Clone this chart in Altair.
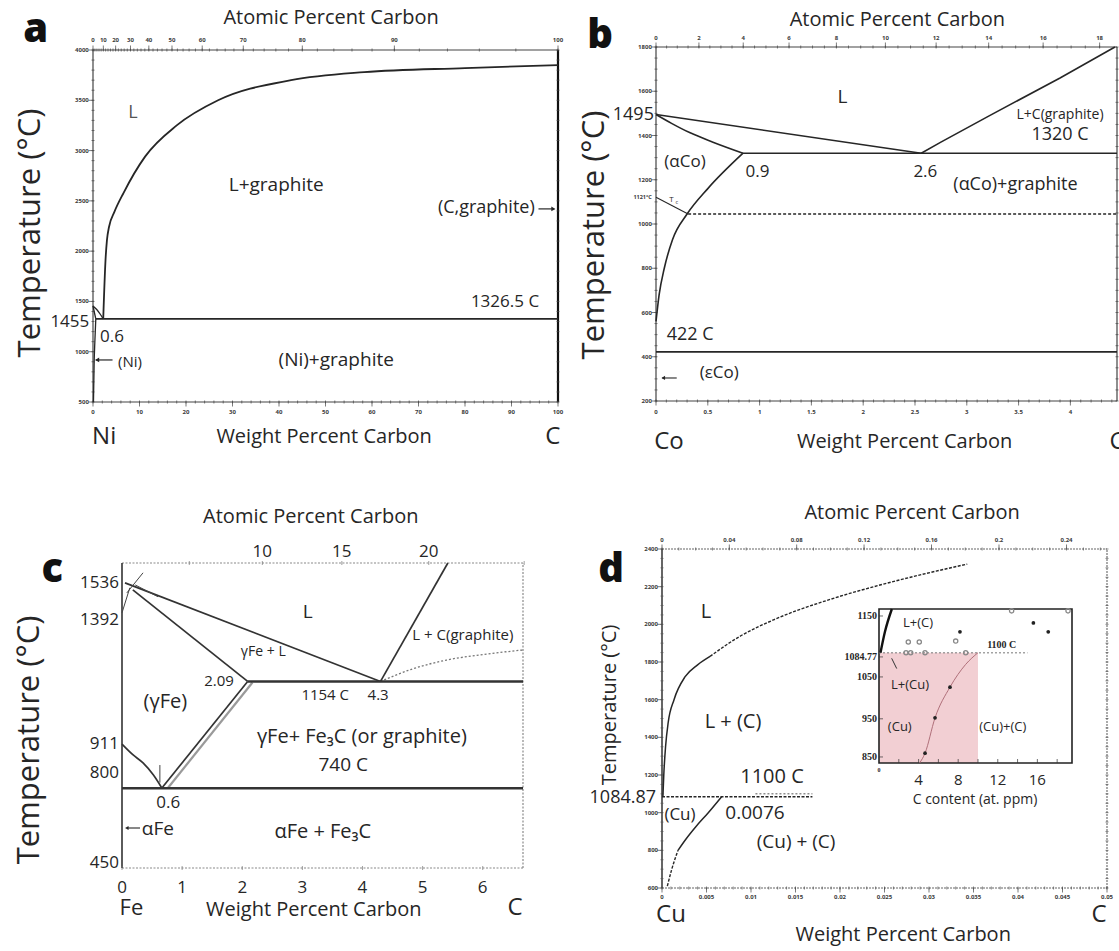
import altair as alt
import pandas as pd

FONT = "Open Sans"
INK = "#262626"


def at2wt(at_list, m):
    return [100.0 * 12.011 * a / (12.011 * a + m * (100.0 - a)) for a in at_list]


def rng(a, b, step):
    out, v = [], a
    while v <= b + 1e-9:
        out.append(round(v, 6))
        v += step
    return out

# ===================== DATA =====================
# ---- panel a : Ni-C (wt.% C, deg C) ----
a_liq_wt = [2.2, 2.69, 3.0, 3.44, 4.6, 6.58, 11.2, 18, 26.9, 42.6, 58.3, 80, 100]
a_liq_T = [1326.5, 1910, 2110, 2240, 2390, 2580, 2940, 3250, 3500, 3700, 3780, 3820, 3850]
a_niliq_wt = [0, 0.8, 1.6, 2.2]
a_niliq_T = [1455, 1420, 1370, 1326.5]
a_sol_wt = [0, 0.3, 0.6]
a_sol_T = [1455, 1390, 1326.5]
a_solv_wt = [0.1, 0.25, 0.4, 0.6]
a_solv_T = [500, 900, 1100, 1326.5]
a_eut_wt = [0.6, 100]
a_eut_T = [1326.5, 1326.5]
a_wt_ticks = list(range(0, 101, 10))
a_T_ticks = list(range(500, 4001, 500))
a_at_ticks = list(range(0, 101, 10))

# ---- panel b : Co-C ----
b_liqL_wt = [0, 2.56]
b_liqL_T = [1495, 1320]
b_sol_wt = [0, 0.15, 0.33, 0.55, 0.84]
b_sol_T = [1495, 1455, 1412, 1370, 1320]
b_solv_wt = [0, 0.03, 0.08, 0.16, 0.3, 0.5, 0.84]
b_solv_T = [560, 680, 800, 930, 1045, 1160, 1320]
b_eut_wt = [0.84, 4.45]
b_eut_T = [1320, 1320]
b_liqR_wt = [2.56, 2.75, 3.22, 3.9, 4.43]
b_liqR_T = [1320, 1370, 1490, 1660, 1800]
b_mag_wt = [0.31, 4.45]
b_mag_T = [1045, 1045]
b_tc_wt = [0, 0.31]
b_tc_T = [1121, 1045]
b_422_wt = [0, 4.45]
b_422_T = [422, 422]
b_wt_ticks = [0, 0.5, 1, 1.5, 2, 2.5, 3, 3.5, 4]
b_wt_labels = ["0", "0.5", "1", "1.5", "2", "2.5", "3", "3.5", "4"]
b_T_ticks = list(range(200, 1801, 200))
b_at_ticks = list(range(0, 19, 2))

# ---- panel c : Fe-C ----
c_liq_wt = [0.05, 4.3]
c_liq_T = [1536, 1154]
c_sol_wt = [0.18, 2.09]
c_sol_T = [1509, 1154]
c_gl_wt = [4.3, 5.42]
c_gl_T = [1154, 1613]
c_dot_wt = [4.3, 4.8, 5.4, 6.0, 6.67]
c_dot_T = [1154, 1200, 1237, 1258, 1276]
c_eut_wt = [2.09, 6.67]
c_eut_T = [1154, 1154]
c_acm_wt = [2.09, 0.66]
c_acm_T = [1154, 740]
c_acm2_wt = [2.17, 0.76]
c_acm2_T = [1150, 740]
c_a3_wt = [0, 0.18, 0.35, 0.52, 0.66]
c_a3_T = [911, 870, 838, 792, 742]
c_ed_wt = [0, 6.67]
c_ed_T = [740, 740]
c_d1_wt, c_d1_T = [0, 0.13], [1420, 1517]
c_d2_wt, c_d2_T = [0.08, 0.35], [1497, 1575]
c_d3_wt, c_d3_T = [0.22, 0.6], [1528, 1482]
c_wt_ticks = [0, 1, 2, 3, 4, 5, 6]
c_T_ticks = [1536, 1392, 911, 800, 450]
c_at_ticks = [10, 15, 20]
c_at_minor = [5, 10, 15, 20, 25]

# ---- panel d : Cu-C ----
d_liqS_wt = [0.0001, 0.0002, 0.0004, 0.0007, 0.00135, 0.0026, 0.004, 0.0054]
d_liqS_T = [1085, 1200, 1350, 1480, 1600, 1722, 1785, 1830]
d_liqD_wt = [0.0054, 0.0087, 0.0126, 0.0194, 0.0246, 0.0343]
d_liqD_T = [1830, 1935, 2025, 2140, 2210, 2320]
d_solS_wt = [0.0018, 0.0027, 0.0038, 0.0052, 0.0067]
d_solS_T = [800, 860, 925, 1000, 1085]
d_solD_wt = [0.0006, 0.0011, 0.0018]
d_solD_T = [610, 700, 800]
d_eut_wt = [0, 0.0169]
d_eut_T = [1084.87, 1084.87]
d_1100_wt = [0.0105, 0.0169]
d_1100_T = [1100, 1100]
d_wt_ticks = [0, 0.005, 0.01, 0.015, 0.02, 0.025, 0.03, 0.035, 0.04, 0.045, 0.05]
d_wt_labels = ["0", "0.005", "0.01", "0.015", "0.02", "0.025", "0.03", "0.035", "0.04", "0.045", "0.05"]
d_T_ticks = list(range(600, 2401, 200))
d_at_ticks = [0, 0.04, 0.08, 0.12, 0.16, 0.2, 0.24]
d_at_labels = ["0", "0.04", "0.08", "0.12", "0.16", "0.2", "0.24"]

# ---- inset (C content at. ppm, deg C) ----
i_solv_ppm = [4.1, 4.65, 5.66, 7.17, 8.76, 10]
i_solv_T = [848, 869, 945, 1011, 1060, 1085]
i_liq_ppm = [0.15, 0.6, 1.3]
i_liq_T = [1085, 1130, 1179]
i_fill_ppm = [4.65, 5.66, 7.17, 8.18, 15.6, 17.1]
i_fill_T = [869, 945, 1011, 1130, 1149, 1130]
i_open_ppm = [2.96, 4.07, 7.75, 2.73, 3.2, 4.65, 8.76, 13.4, 19.1]
i_open_T = [1108, 1108, 1110, 1085, 1085, 1085, 1085, 1175, 1175]
i_x_ticks = [4, 8, 12, 16]
i_y_labels = ["1150", "1084.77", "1050", "950", "850"]
i_y_pos = [1164, 1076, 1033, 943, 861]


# ===================== HELPERS =====================
class Panel:
    def __init__(self, xd, xr, yd, yr):
        self.xs = dict(domain=xd, range=xr, nice=False, zero=False)
        self.ys = dict(domain=yd, range=yr, nice=False, zero=False)

    def X(self, f="x"):
        return alt.X(f"{f}:Q", scale=alt.Scale(**self.xs), axis=None)

    def Y(self, f="y"):
        return alt.Y(f"{f}:Q", scale=alt.Scale(**self.ys), axis=None)


def lines(P, series, color=INK, width=1.5, dash=None, opacity=1.0, curve="linear"):
    rows = []
    for g, (xs, ys) in enumerate(series):
        for o, (x, y) in enumerate(zip(xs, ys)):
            rows.append({"g": g, "o": o, "x": x, "y": y})
    kw = dict(color=color, strokeWidth=width, opacity=opacity, interpolate=curve)
    if dash:
        kw["strokeDash"] = dash
    return alt.Chart(pd.DataFrame(rows)).mark_line(**kw).encode(
        x=P.X(), y=P.Y(), detail="g:N", order="o:Q")


def texts(P, rows, align="center", baseline="middle", font=FONT, weight="normal",
          angle=0, color=INK):
    df = pd.DataFrame(rows, columns=["x", "y", "t", "s"])
    kw = dict(align=align, baseline=baseline, font=font, fontWeight=weight, color=color)
    if angle:
        kw["angle"] = angle
    return alt.Chart(df).mark_text(**kw).encode(
        x=P.X(), y=P.Y(), text="t:N", size=alt.Size("s:Q", scale=None, legend=None))


def frame(P, x0, x1, y0, y1, color="#444", width=1.2, dash=None, sides="btlr"):
    segs = {"b": (x0, x1, y0, y0), "t": (x0, x1, y1, y1),
            "l": (x0, x0, y0, y1), "r": (x1, x1, y0, y1)}
    df = pd.DataFrame([dict(zip(["x", "x2", "y", "y2"], segs[s])) for s in sides])
    kw = dict(color=color, strokeWidth=width)
    if dash:
        kw["strokeDash"] = dash
    return alt.Chart(df).mark_rule(**kw).encode(x=P.X(), x2="x2:Q", y=P.Y(), y2="y2:Q")


def ticks(P, xs, ys, orient, size, color="#444", thickness=1, xoff=0, yoff=0):
    n = max(len(xs) if isinstance(xs, list) else 1, len(ys) if isinstance(ys, list) else 1)
    xs = xs if isinstance(xs, list) else [xs] * n
    ys = ys if isinstance(ys, list) else [ys] * n
    df = pd.DataFrame({"x": xs, "y": ys})
    return alt.Chart(df).mark_tick(orient=orient, size=size, thickness=thickness, color=color,
                                   xOffset=xoff, yOffset=yoff).encode(x=P.X(), y=P.Y())


def points(P, xs, ys, shape="circle", size=20, filled=True, color=INK, width=1):
    df = pd.DataFrame({"x": xs, "y": ys})
    return alt.Chart(df).mark_point(shape=shape, size=size, filled=filled, color=color,
                                    strokeWidth=width, opacity=1).encode(x=P.X(), y=P.Y())


def box(P, x0, x1, y0, y1, fill=None, stroke=None, width=1.0):
    df = pd.DataFrame([{"x": x0, "x2": x1, "y": y0, "y2": y1}])
    kw = {}
    if fill:
        kw["fill"] = fill
        kw["fillOpacity"] = 1
    else:
        kw["fillOpacity"] = 0
    if stroke:
        kw["stroke"] = stroke
        kw["strokeWidth"] = width
    return alt.Chart(df).mark_rect(**kw).encode(x=P.X(), x2="x2:Q", y=P.Y(), y2="y2:Q")


TL = 6  # tiny tick label size
TC = "#3a3a3a"
MONO = "monotone"

# ===================== PANEL A =====================
PA = Panel([0, 100], [93, 558], [500, 4000], [402, 50])
a_top = at2wt(a_at_ticks, 58.693)
a_layers = [
    frame(PA, 0, 100, 500, 4000, sides="btl"),
    frame(PA, 0, 100, 500, 4000, color="#111", width=2.2, sides="r"),
    ticks(PA, rng(0, 100, 2), 500, "vertical", 3),
    ticks(PA, a_wt_ticks, 500, "vertical", 5, yoff=2),
    ticks(PA, at2wt(rng(0, 100, 2), 58.693), 4000, "vertical", 3),
    ticks(PA, a_top, 4000, "vertical", 5, yoff=-2),
    ticks(PA, 0, rng(500, 4000, 100), "horizontal", 3),
    ticks(PA, 0, a_T_ticks, "horizontal", 5, xoff=-2),
    ticks(PA, 100, rng(500, 4000, 100), "horizontal", 3),
    texts(PA, [(v, 398, str(v), TL) for v in a_wt_ticks], weight="bold", color=TC),
    texts(PA, [(w, 4100, str(a), TL) for w, a in zip(a_top, a_at_ticks)], weight="bold", color=TC),
    texts(PA, [(-0.9, v, str(v), TL) for v in a_T_ticks], align="right", weight="bold", color=TC),
    lines(PA, [(a_liq_wt, a_liq_T)], width=1.8, curve=MONO),
    lines(PA, [(a_niliq_wt, a_niliq_T), (a_sol_wt, a_sol_T), (a_solv_wt, a_solv_T)], width=1.3,
          curve=MONO),
    lines(PA, [(a_eut_wt, a_eut_T)], width=1.8),
    lines(PA, [([0.6, 4.2], [918, 918]), ([95.8, 99.2], [2420, 2420])], width=1.2),
    points(PA, [0.9], [918], shape="triangle-left", size=22),
    points(PA, [99.0], [2420], shape="triangle-right", size=22),
    texts(PA, [(8.6, 3374, "L", 18)], color="#555"),
    texts(PA, [(39.4, 2658, "L+graphite", 19), (88.6, 1494, "1326.5 C", 17),
               (52.3, 918, "(Ni)+graphite", 19),
               (2.4, 152, "Ni", 24), (49.7, 152, "Weight Percent Carbon", 20), (98.9, 152, "C", 24),
               (51.2, 4318, "Atomic Percent Carbon", 20)]),
    texts(PA, [(95.0, 2429, "(C,graphite)", 18), (-0.8, 1295, "1455", 17)], align="right"),
    texts(PA, [(1.5, 1146, "0.6", 17), (5.4, 898, "(Ni)", 15)], align="left"),
    texts(PA, [(-12.3, 4080, "a", 40)], baseline="alphabetic", weight=800, color="#111"),
    texts(PA, [(-13.3, 2180, "Temperature (°C)", 31)], angle=270),
]

# ===================== PANEL B =====================
PB = Panel([0, 4.45], [656, 1117], [200, 1800], [401, 47])
b_top = at2wt(b_at_ticks, 58.933)
b_layers = [
    frame(PB, 0, 4.45, 200, 1800),
    ticks(PB, rng(0, 4.45, 0.1), 200, "vertical", 3),
    ticks(PB, b_wt_ticks, 200, "vertical", 5, yoff=2),
    ticks(PB, at2wt(rng(0, 18, 0.5), 58.933), 1800, "vertical", 3),
    ticks(PB, b_top, 1800, "vertical", 5, yoff=-2),
    ticks(PB, 0, rng(200, 1800, 50), "horizontal", 3),
    ticks(PB, 0, b_T_ticks, "horizontal", 5, xoff=-2),
    ticks(PB, 4.45, rng(200, 1800, 50), "horizontal", 3),
    texts(PB, [(v, 150, t, TL) for v, t in zip(b_wt_ticks, b_wt_labels)], weight="bold", color=TC),
    texts(PB, [(w, 1841, str(a), TL) for w, a in zip(b_top, b_at_ticks)], weight="bold", color=TC),
    texts(PB, [(-0.04, v, str(v), TL) for v in b_T_ticks], align="right", weight="bold", color=TC),
    texts(PB, [(-0.04, 1122, "1121°C", 5.5)], align="right", weight="bold", color=TC),
    lines(PB, [(b_liqL_wt, b_liqL_T), (b_eut_wt, b_eut_T), (b_422_wt, b_422_T),
               (b_liqR_wt, b_liqR_T)], width=1.6),
    lines(PB, [(b_sol_wt, b_sol_T), (b_solv_wt, b_solv_T)], width=1.6, curve=MONO),
    lines(PB, [(b_tc_wt, b_tc_T)], width=1.1),
    lines(PB, [(b_mag_wt, b_mag_T)], width=1.4, dash=[3, 2]),
    lines(PB, [([0.06, 0.2], [304, 304])], width=1.1),
    points(PB, [0.07], [304], shape="triangle-left", size=18),
    texts(PB, [(1.80, 1574, "L", 19), (3.90, 1493, "L+C(graphite)", 14), (3.90, 1402, "1320 C", 18),
               (0.28, 1280, "(αCo)", 17), (0.98, 1235, "0.9", 17), (2.60, 1235, "2.6", 17),
               (3.47, 1176, "(αCo)+graphite", 18), (0.33, 498, "422 C", 18), (0.61, 327, "(εCo)", 17),
               (0.125, 15, "Co", 24), (2.40, 15, "Weight Percent Carbon", 20), (4.45, 15, "C", 24),
               (2.33, 1922, "Atomic Percent Carbon", 20)]),
    texts(PB, [(0.15, 1110, "T", 8), (0.2, 1100, "c", 5.5)]),
    texts(PB, [(-0.02, 1493, "1495", 18)], align="right"),
    texts(PB, [(-0.54, 1795, "b", 40)], baseline="alphabetic", weight=800, color="#111"),
    texts(PB, [(-0.59, 950, "Temperature (°C)", 31)], angle=270),
]

# ===================== PANEL C =====================
PC = Panel([0, 6.67], [122, 523], [431, 1613], [868, 563])
c_top = at2wt(c_at_ticks, 55.845)
c_layers = [
    frame(PC, 0, 6.67, 431, 1613, color="#8a8a8a", width=1.2, dash=[2, 1.5], sides="btr"),
    frame(PC, 0, 6.67, 431, 1613, color="#333", width=1.6, sides="l"),
    ticks(PC, c_wt_ticks, 431, "vertical", 4, color="#777"),
    ticks(PC, at2wt(c_at_minor, 55.845), 1613, "vertical", 4, color="#777"),
    texts(PC, [(v, 353, str(v), 17) for v in c_wt_ticks]),
    texts(PC, [(w, 1656, str(a), 17) for w, a in zip(c_top, c_at_ticks)]),
    texts(PC, [(-0.05, v, str(v), 17) for v in c_T_ticks], align="right"),
    lines(PC, [(c_acm2_wt, c_acm2_T)], color="#9a9a9a", width=2.2),
    lines(PC, [(c_dot_wt, c_dot_T)], color="#777", width=1.3, dash=[2, 2], curve=MONO),
    lines(PC, [(c_liq_wt, c_liq_T), (c_sol_wt, c_sol_T), (c_gl_wt, c_gl_T),
               (c_acm_wt, c_acm_T)], color="#333", width=1.7),
    lines(PC, [(c_a3_wt, c_a3_T)], color="#333", width=1.7, curve=MONO),
    lines(PC, [(c_d1_wt, c_d1_T), (c_d2_wt, c_d2_T), (c_d3_wt, c_d3_T),
               ([0.63, 0.63], [830, 762])], color="#444", width=1.0),
    lines(PC, [(c_eut_wt, c_eut_T), (c_ed_wt, c_ed_T)], color="#333", width=2.6),
    lines(PC, [([0.1, 0.3], [586, 586])], width=1.1),
    points(PC, [0.08], [586], shape="triangle-left", size=16),
    texts(PC, [(3.09, 1423, "L", 19), (5.67, 1334, "L + C(graphite)", 15), (2.35, 1268, "γFe + L", 14),
               (3.38, 1102, "1154 C", 15), (4.26, 1102, "4.3", 15), (0.72, 1074, "(γFe)", 20),
               (3.99, 939, "γFe+ Fe₃C (or graphite)", 20), (3.68, 830, "740 C", 19),
               (0.77, 683, "0.6", 17), (3.34, 571, "αFe + Fe₃C", 20),
               (3.19, 268, "Weight Percent Carbon", 20), (6.54, 276, "C", 24),
               (3.14, 1791, "Atomic Percent Carbon", 20)]),
    texts(PC, [(1.86, 1156, "2.09", 15)], align="right"),
    texts(PC, [(0.33, 582, "αFe", 19), (-0.04, 276, "Fe", 22)], align="left"),
    texts(PC, [(-1.16, 1539, "c", 40)], baseline="alphabetic", weight=800, color="#111"),
    texts(PC, [(-1.53, 927, "Temperature (°C)", 31)], angle=270),
]

# ===================== PANEL D =====================
PD = Panel([0, 0.05], [662, 1107], [600, 2400], [888, 549])
d_top = at2wt(d_at_ticks, 63.546)
d_layers = [
    frame(PD, 0, 0.05, 600, 2400, color="#666", width=1.1, dash=[2, 1], sides="btr"),
    frame(PD, 0, 0.05, 600, 2400, color="#333", width=1.5, sides="l"),
    ticks(PD, rng(0, 0.05, 0.001), 600, "vertical", 3, color="#555"),
    ticks(PD, d_wt_ticks, 600, "vertical", 5, yoff=2),
    ticks(PD, at2wt(rng(0, 0.26, 0.01), 63.546), 2400, "vertical", 3, color="#555"),
    ticks(PD, d_top, 2400, "vertical", 5, yoff=-2),
    ticks(PD, 0, rng(600, 2400, 50), "horizontal", 3, color="#555"),
    ticks(PD, 0, d_T_ticks, "horizontal", 5, xoff=-2),
    ticks(PD, 0.05, rng(600, 2400, 50), "horizontal", 3, color="#555"),
    texts(PD, [(v, 552, t, TL) for v, t in zip(d_wt_ticks, d_wt_labels)], weight="bold", color=TC),
    texts(PD, [(w, 2448, t, TL) for w, t in zip(d_top, d_at_labels)], weight="bold", color=TC),
    texts(PD, [(-0.00045, v, str(v), TL) for v in d_T_ticks], align="right", weight="bold", color=TC),
    lines(PD, [(d_liqS_wt, d_liqS_T), (d_solS_wt, d_solS_T)], width=1.5, curve=MONO),
    lines(PD, [(d_liqD_wt, d_liqD_T), (d_solD_wt, d_solD_T)], width=1.4, dash=[3, 1.5], curve=MONO),
    lines(PD, [(d_eut_wt, d_eut_T)], width=1.4, dash=[3, 1.5]),
    lines(PD, [(d_1100_wt, d_1100_T)], color="#555", width=1.0, dash=[2, 2]),
    texts(PD, [(0.00494, 2066, "L", 20), (0.00798, 1481, "L + (C)", 20), (0.01236, 1189, "1100 C", 20),
               (0.00202, 988, "(Cu)", 17), (0.01045, 998, "0.0076", 19), (0.01506, 844, "(Cu) + (C)", 19),
               (0.00101, 457, "Cu", 24), (0.0491, 457, "C", 24), (0.0271, 350, "Weight Percent Carbon", 20),
               (0.0281, 2591, "Atomic Percent Carbon", 20)]),
    texts(PD, [(-0.00067, 1078, "1084.87", 18)], align="right"),
    texts(PD, [(-0.00573, 2225, "d", 40)], baseline="alphabetic", weight=800, color="#111"),
    texts(PD, [(-0.00584, 1572, "Temperature (°C)", 20)], angle=270),
]

# ===================== INSET =====================
PI = Panel([0, 19.5], [879, 1072], [848, 1179], [763, 609])
i_layers = [
    box(PI, 0, 19.5, 848, 1179, fill="white"),
    box(PI, 0, 10, 848, 1084.77, fill="#f2cfd3"),
    box(PI, 0, 19.5, 848, 1179, stroke="#222", width=1.6),
    ticks(PI, rng(2, 18, 2), 848, "vertical", 4, color="#333", yoff=-2),
    ticks(PI, 0, i_y_pos, "horizontal", 4, color="#333", xoff=2),
    lines(PI, [([0, 15], [1084.77, 1084.77])], color="#777", width=1.0, dash=[2, 2]),
    lines(PI, [(i_solv_ppm, i_solv_T)], color="#b0707a", width=1.0, curve=MONO),
    lines(PI, [(i_liq_ppm, i_liq_T)], color="#111", width=2.4, curve=MONO),
    lines(PI, [([1.28, 1.79], [1073, 1051])], color="#333", width=1.0),
    points(PI, i_open_ppm, i_open_T, size=18, filled=False, color="#888", width=1.3),
    points(PI, i_fill_ppm, i_fill_T, size=14, filled=True, color="#222"),
    texts(PI, [(3.94, 1149, "L+(C)", 13), (3.13, 1016, "L+(Cu)", 13), (2.1, 925, "(Cu)", 13),
               (12.5, 925, "(Cu)+(C)", 13), (9.7, 768, "C content (at. ppm)", 14)]),
    texts(PI, [(v, 811, str(v), 15) for v in i_x_ticks]),
    texts(PI, [(12.4, 1102, "1100 C", 10), (0, 832, "0", 6)], font="Liberation Serif", weight="bold"),
    texts(PI, [(-0.2, p, t, 10) for t, p in zip(i_y_labels, i_y_pos)], align="right",
          font="Liberation Serif", weight="bold"),
]

chart = alt.layer(
    alt.layer(*a_layers), alt.layer(*b_layers), alt.layer(*c_layers),
    alt.layer(*d_layers), alt.layer(*i_layers),
).resolve_scale(x="independent", y="independent").properties(
    width=1119, height=951, padding=0,
    autosize=alt.AutoSizeParams(type="none"), background="white",
).configure_view(strokeWidth=0)

chart.save("out.html", embed_options={"renderer": "svg", "actions": False})
